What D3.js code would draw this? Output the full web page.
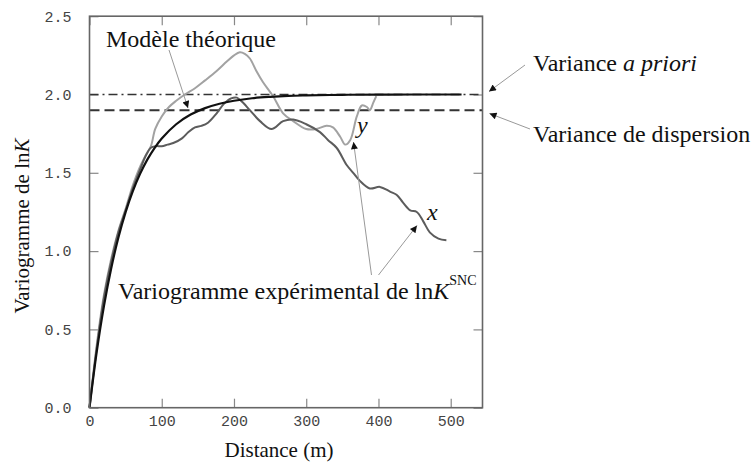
<!DOCTYPE html>
<html>
<head>
<meta charset="utf-8">
<script src="https://cdn.jsdelivr.net/npm/d3@7"></script>
<style>
  html, body { margin: 0; padding: 0; background: #fff; }
  svg { display: block; }
  .serif { font-family: "Liberation Serif", "Times New Roman", serif; fill: #111; }
  .tick text { font-family: "Liberation Mono", "Courier New", monospace; font-size: 15px; fill: #444; }
</style>
</head>
<body>
<svg id="chart" width="754" height="463"></svg>
<script>
// Theoretical (exponential) variogram model, sill 2.0
const modelDist = [0, 10, 20, 30, 40, 50, 60, 70, 80, 90, 100, 120, 140, 160, 180, 200, 225, 250, 275, 300, 350, 400, 450, 515];
const modelVar  = [0, 0.356, 0.649, 0.889, 1.087, 1.249, 1.383, 1.493, 1.584, 1.658, 1.719, 1.810, 1.872, 1.913, 1.941, 1.960, 1.976, 1.985, 1.991, 1.994, 1.998, 1.999, 2.0, 2.0];

// Experimental variogram along x
const xDist = [0, 10, 20, 30, 40, 50, 60, 70, 78, 85, 92, 100, 108, 116, 128, 137, 146, 155, 164, 176, 186, 196, 204, 212, 222, 236, 252, 268, 282, 300, 319, 330, 342, 356, 365, 374, 388, 402, 416, 425, 434, 444, 453, 462, 471, 483, 494];
const xVar  = [0, 0.38, 0.70, 0.93, 1.12, 1.26, 1.40, 1.52, 1.61, 1.66, 1.67, 1.67, 1.68, 1.69, 1.72, 1.76, 1.79, 1.80, 1.82, 1.88, 1.94, 1.975, 1.98, 1.95, 1.90, 1.83, 1.78, 1.83, 1.84, 1.81, 1.76, 1.71, 1.66, 1.55, 1.50, 1.45, 1.40, 1.41, 1.38, 1.36, 1.31, 1.26, 1.25, 1.19, 1.12, 1.08, 1.07];

// Experimental variogram along y
const yDist = [0, 10, 20, 30, 40, 50, 60, 70, 80, 85, 91, 100, 110, 120, 132, 146, 160, 176, 190, 200, 208, 215, 222, 231, 240, 254, 268, 282, 300, 314, 328, 337, 347, 354, 361, 370, 377, 384, 388, 393, 397];
const yVar  = [0, 0.40, 0.72, 0.95, 1.13, 1.27, 1.42, 1.54, 1.63, 1.67, 1.78, 1.86, 1.92, 1.96, 2.00, 2.04, 2.09, 2.15, 2.21, 2.25, 2.27, 2.26, 2.23, 2.15, 2.08, 1.99, 1.88, 1.83, 1.78, 1.78, 1.80, 1.79, 1.73, 1.68, 1.71, 1.86, 1.93, 1.92, 1.90, 1.95, 1.99];

// Reference levels
const prioriVariance = 2.0;
const dispersionVariance = 1.9;

// Axis ticks
const xTicks = [0, 100, 200, 300, 400, 500];
const yTicks = [0, 0.5, 1.0, 1.5, 2.0, 2.5];

const svg = d3.select("#chart");
const plotLeft = 89.5, plotRight = 482.5, plotTop = 16.2, plotBottom = 407.7;

const x = d3.scaleLinear().domain([0, 544]).range([plotLeft, plotRight]);
const y = d3.scaleLinear().domain([0, 2.5]).range([plotBottom, plotTop]);

const zip = (a, b) => a.map((d, i) => [d, b[i]]);

// Arrow marker
const defs = svg.append("defs");
defs.append("marker")
  .attr("id", "head")
  .attr("viewBox", "0 0 10 10")
  .attr("refX", 10).attr("refY", 5)
  .attr("markerUnits", "userSpaceOnUse")
  .attr("markerWidth", 9).attr("markerHeight", 7)
  .attr("orient", "auto")
  .append("path").attr("d", "M0,0 L10,5 L0,10 z").attr("fill", "#111");

// Axes with inward ticks
const tickColor = "#888";
const gB = svg.append("g").attr("transform", `translate(0,${plotBottom})`)
  .call(d3.axisBottom(x).tickValues(xTicks).tickSizeInner(-9).tickSizeOuter(0).tickPadding(8).tickFormat(d3.format("d")));
const gL = svg.append("g").attr("transform", `translate(${plotLeft},0)`)
  .call(d3.axisLeft(y).tickValues(yTicks).tickSizeInner(-9).tickSizeOuter(0).tickPadding(18).tickFormat(d3.format(".1f")));
const gT = svg.append("g").attr("transform", `translate(0,${plotTop})`)
  .call(d3.axisTop(x).tickValues(xTicks).tickSizeInner(-9).tickSizeOuter(0).tickFormat(""));
const gR = svg.append("g").attr("transform", `translate(${plotRight},0)`)
  .call(d3.axisRight(y).tickValues(yTicks).tickSizeInner(-9).tickSizeOuter(0).tickFormat(""));
[gB, gL, gT, gR].forEach(g => {
  g.select(".domain").remove();
  g.selectAll(".tick line").attr("stroke", tickColor).attr("stroke-width", 1.2);
});

// Reference lines
svg.append("line")
  .attr("x1", plotLeft).attr("x2", plotRight)
  .attr("y1", y(prioriVariance)).attr("y2", y(prioriVariance))
  .attr("stroke", "#333").attr("stroke-width", 1.6)
  .attr("stroke-dasharray", "9,4,2,4");
svg.append("line")
  .attr("x1", plotLeft).attr("x2", plotRight)
  .attr("y1", y(dispersionVariance)).attr("y2", y(dispersionVariance))
  .attr("stroke", "#333").attr("stroke-width", 2)
  .attr("stroke-dasharray", "10,5");

const line = d3.line().x(d => x(d[0])).y(d => y(d[1])).curve(d3.curveCatmullRom.alpha(0.5));

svg.append("path").datum(zip(yDist, yVar))
  .attr("d", line).attr("fill", "none").attr("stroke", "#a2a2a2").attr("stroke-width", 2);
svg.append("path").datum(zip(xDist, xVar))
  .attr("d", line).attr("fill", "none").attr("stroke", "#5c5c5c").attr("stroke-width", 2);
svg.append("path").datum(zip(modelDist, modelVar))
  .attr("d", line).attr("fill", "none").attr("stroke", "#111").attr("stroke-width", 2.2);

// Frame
svg.append("rect")
  .attr("x", plotLeft).attr("y", plotTop)
  .attr("width", plotRight - plotLeft).attr("height", plotBottom - plotTop)
  .attr("fill", "none").attr("stroke", "#666").attr("stroke-width", 1.6);

// Annotation arrows
function arrow(x1, y1, x2, y2) {
  svg.append("line")
    .attr("x1", x1).attr("y1", y1).attr("x2", x2).attr("y2", y2)
    .attr("stroke", "#999").attr("stroke-width", 1)
    .attr("marker-end", "url(#head)");
}
arrow(169, 50, 188, 108);
arrow(525, 65, 489, 91.5);
arrow(530, 129, 489.5, 113.5);
arrow(371.5, 275, 353.5, 142);
arrow(378.5, 275, 417, 225.5);

// Annotation texts
svg.append("text").attr("class", "serif").attr("x", 106).attr("y", 47)
  .style("font-size", "24px").text("Modèle théorique");

const tp = svg.append("text").attr("class", "serif").attr("x", 533).attr("y", 71)
  .style("font-size", "24px");
tp.append("tspan").text("Variance ");
tp.append("tspan").style("font-style", "italic").text("a priori");

svg.append("text").attr("class", "serif").attr("x", 533).attr("y", 142)
  .style("font-size", "24px").text("Variance de dispersion");

const te = svg.append("text").attr("class", "serif").attr("x", 118).attr("y", 299)
  .style("font-size", "24px");
te.append("tspan").text("Variogramme expérimental de ln");
te.append("tspan").style("font-style", "italic").text("K");
te.append("tspan").attr("dy", -14).style("font-size", "14px").text("SNC");

svg.append("text").attr("class", "serif").attr("x", 427).attr("y", 220)
  .style("font-size", "24px").style("font-style", "italic").text("x");
svg.append("text").attr("class", "serif").attr("x", 357).attr("y", 133)
  .style("font-size", "24px").style("font-style", "italic").text("y");

// Axis titles
svg.append("text").attr("class", "serif").attr("x", 279).attr("y", 457)
  .attr("text-anchor", "middle").style("font-size", "21px").text("Distance (m)");

const yl = svg.append("text").attr("class", "serif")
  .attr("transform", "translate(28.5,226) rotate(-90)")
  .attr("text-anchor", "middle").style("font-size", "21px");
yl.append("tspan").text("Variogramme de ln");
yl.append("tspan").style("font-style", "italic").text("K");
</script>
</body>
</html>
